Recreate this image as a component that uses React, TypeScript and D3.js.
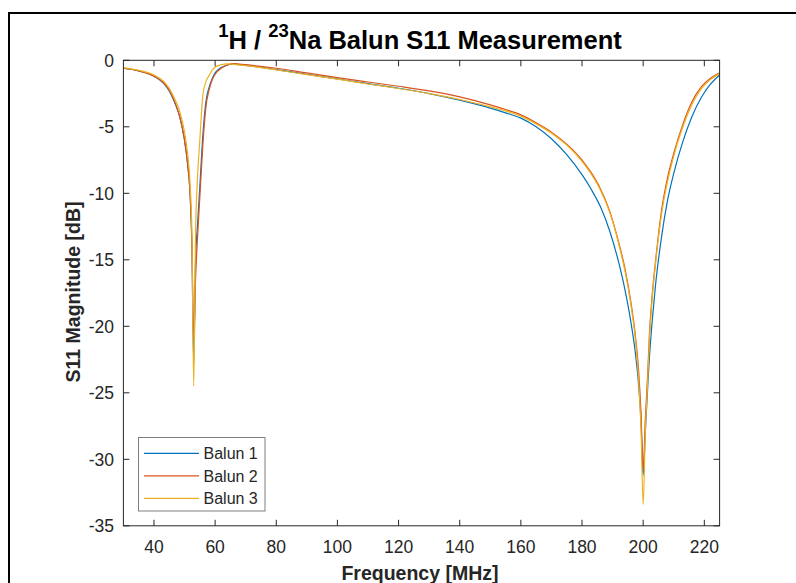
import React from "react";
import * as d3 from "d3";

const freq = [30, 35, 40, 43, 45, 47, 48.5, 50, 51, 51.8, 52.4, 53, 53.6, 54.2, 55, 56, 57, 58, 59, 60, 62, 64, 66, 70, 80, 90, 100, 110, 120, 130, 140, 150, 155, 160, 165, 170, 175, 180, 183, 186, 189, 192, 194, 196, 197.5, 198.5, 199.3, 200, 200.7, 201.5, 202, 203, 204, 206, 208, 210, 213, 216, 219, 222, 225];

const balun1 = [-0.6, -0.8, -1.2, -1.7, -2.3, -3.3, -4.3, -6.0, -7.8, -10, -14, -22.8, -15, -12.5, -9.5, -5.6, -3.1, -2.05, -1.4, -0.95, -0.55, -0.35, -0.28, -0.38, -0.7, -1.05, -1.4, -1.75, -2.1, -2.5, -3.0, -3.6, -3.95, -4.35, -5.0, -5.9, -7.1, -8.6, -9.7, -11.0, -12.8, -15.2, -17.2, -19.7, -22.1, -24.4, -27.1, -31.2, -28, -24.5, -22.5, -19.5, -17, -13.3, -10.5, -8.5, -6.1, -4.2, -2.8, -1.8, -1.1];

const balun2 = [-0.6, -0.8, -1.2, -1.65, -2.25, -3.25, -4.3, -6.0, -7.8, -10, -13.5, -21, -16.5, -13.5, -10.3, -6.3, -3.5, -2.25, -1.5, -1.05, -0.6, -0.35, -0.25, -0.33, -0.6, -0.95, -1.3, -1.63, -1.95, -2.3, -2.75, -3.35, -3.7, -4.1, -4.7, -5.4, -6.3, -7.5, -8.45, -9.65, -11.3, -13.7, -15.6, -18.2, -20.8, -23.3, -26.5, -30.8, -27, -23.5, -20.8, -17.5, -15.2, -11.3, -8.8, -7.0, -4.8, -3.1, -2.0, -1.35, -0.93];

const balun3 = [-0.55, -0.75, -1.1, -1.55, -2.1, -3.0, -3.9, -5.4, -7.0, -9.2, -13, -24.5, -13, -9.0, -6.0, -2.6, -1.6, -1.15, -0.75, -0.52, -0.33, -0.27, -0.3, -0.4, -0.72, -1.08, -1.42, -1.78, -2.12, -2.5, -2.95, -3.5, -3.8, -4.2, -4.78, -5.48, -6.38, -7.6, -8.55, -9.75, -11.4, -13.8, -15.8, -18.4, -21.1, -24.0, -27.8, -33.4, -28, -24, -21.3, -17.8, -15.4, -11.6, -9.1, -7.2, -5.0, -3.3, -2.15, -1.45, -1.0];

const seriesNames = ["Balun 1", "Balun 2", "Balun 3"];
const seriesColors = ["#0072BD", "#D95319", "#EDB120"];
const xTicks = [40, 60, 80, 100, 120, 140, 160, 180, 200, 220];
const yTicks = [0, -5, -10, -15, -20, -25, -30, -35];

const W = 796;
const H = 583;
const left = 123.4;
const right = 719.6;
const top = 60.3;
const bottom = 525.8;
const font = "Arial, 'Liberation Sans', Helvetica, sans-serif";
const axisColor = "#262626";

export default function App() {
  const x = d3.scaleLinear().domain([30, 225]).range([left, right]);
  const y = d3.scaleLinear().domain([-35, 0]).range([bottom, top]);
  const data = [balun1, balun2, balun3];
  const line = d3
    .line<[number, number]>()
    .x((d) => x(d[0]))
    .y((d) => y(d[1]))
    .curve(d3.curveMonotoneX);

  const tickLen = 6;
  return (
    <svg
      width={W}
      height={H}
      style={{ position: "absolute", left: 0, top: 0, background: "#fff" }}
      fontFamily={font}
    >
      <rect x={0} y={0} width={W} height={H} fill="#fff" />
      <rect x={9} y={13} width={W + 20} height={H + 20} fill="none" stroke="#000" strokeWidth={2} />
      <defs>
        <clipPath id="plotclip">
          <rect x={left} y={top} width={right - left} height={bottom - top} />
        </clipPath>
      </defs>
      <g clipPath="url(#plotclip)">
        {data.map((vals, i) => (
          <path
            key={i}
            d={line(freq.map((f, j) => [f, vals[j]]) as [number, number][]) || ""}
            fill="none"
            stroke={seriesColors[i]}
            strokeWidth={1.2}
            strokeLinejoin="round"
          />
        ))}
      </g>
      <rect x={left} y={top} width={right - left} height={bottom - top} fill="none" stroke={axisColor} strokeWidth={1} />
      {xTicks.map((t) => (
        <g key={"x" + t}>
          <line x1={x(t)} x2={x(t)} y1={bottom} y2={bottom - tickLen} stroke={axisColor} />
          <line x1={x(t)} x2={x(t)} y1={top} y2={top + tickLen} stroke={axisColor} />
          <text x={x(t)} y={552.5} textAnchor="middle" fontSize={17.5} fill={axisColor}>
            {t}
          </text>
        </g>
      ))}
      {yTicks.map((t) => (
        <g key={"y" + t}>
          <line x1={left} x2={left + tickLen} y1={y(t)} y2={y(t)} stroke={axisColor} />
          <line x1={right} x2={right - tickLen} y1={y(t)} y2={y(t)} stroke={axisColor} />
          <text x={114} y={y(t)} dy="0.36em" textAnchor="end" fontSize={17.5} fill={axisColor}>
            {t === 0 ? "0" : "-" + Math.abs(t)}
          </text>
        </g>
      ))}
      <text x={420} y={49} textAnchor="middle" fontSize={25.5} fontWeight="bold" fill="#000">
        <tspan fontSize={18.5} dy={-12}>1</tspan>
        <tspan dy={12}>H / </tspan>
        <tspan fontSize={18.5} dy={-12}>23</tspan>
        <tspan dy={12}>Na Balun S11 Measurement</tspan>
      </text>
      <text x={420} y={580} textAnchor="middle" fontSize={19.5} fontWeight="bold" fill={axisColor}>
        Frequency [MHz]
      </text>
      <text
        transform={`translate(80, ${292}) rotate(-90)`}
        textAnchor="middle"
        fontSize={19.5}
        fontWeight="bold"
        fill={axisColor}
      >
        S11 Magnitude [dB]
      </text>
      <rect x={138.5} y={437.5} width={126.5} height={73.5} fill="#fff" stroke="#7f7f7f" strokeWidth={1} />
      {seriesNames.map((n, i) => (
        <g key={n}>
          <line
            x1={144}
            x2={199}
            y1={453.3 + i * 22.5}
            y2={453.3 + i * 22.5}
            stroke={seriesColors[i]}
            strokeWidth={1.2}
          />
          <text x={203.5} y={453.3 + i * 22.5} dy="0.36em" fontSize={16} fill={axisColor}>
            {n}
          </text>
        </g>
      ))}
    </svg>
  );
}
